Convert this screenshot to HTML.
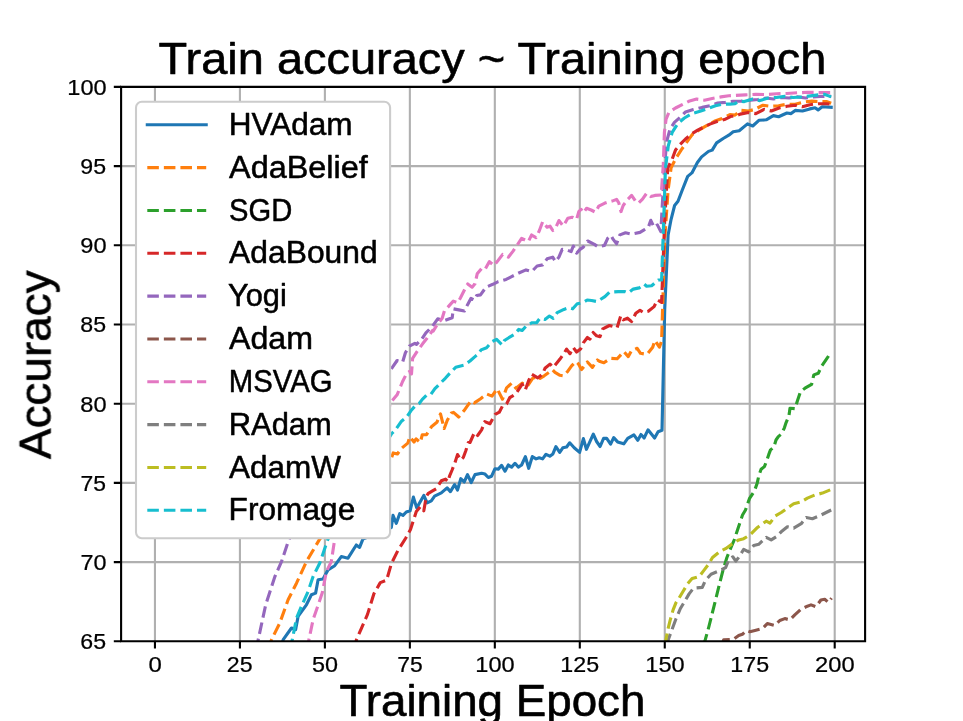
<!DOCTYPE html>
<html><head><meta charset="utf-8"><title>Train accuracy ~ Training epoch</title>
<style>html,body{margin:0;padding:0;background:#fff;width:963px;height:721px;overflow:hidden}</style></head>
<body>
<svg width="963" height="721" viewBox="0 0 963 721" style="display:block">
<rect width="963" height="721" fill="#fff"/>
<defs><clipPath id="ax"><rect x="121.1" y="86.9" width="744.0" height="554.4"/></clipPath></defs>
<path d="M154.95 86.9V641.3M239.92 86.9V641.3M324.89 86.9V641.3M409.86 86.9V641.3M494.83 86.9V641.3M579.8 86.9V641.3M664.77 86.9V641.3M749.74 86.9V641.3M834.71 86.9V641.3M121.1 562.1H865.1M121.1 482.9H865.1M121.1 403.7H865.1M121.1 324.5H865.1M121.1 245.3H865.1M121.1 166.1H865.1" stroke="#b0b0b0" stroke-width="2.1" fill="none"/>
<g clip-path="url(#ax)" fill="none" stroke-width="3.125" stroke-linejoin="round">
<path d="M280.0 650.0 L283.2 639.7 L291.5 628.0 L295.6 629.7 L298.1 616.4 L306.4 604.8 L311.4 594.8 L315.6 593.1 L318.1 579.8 L323.0 579.0 L328.0 569.9 L334.7 565.7 L341.3 556.6 L348.0 558.2 L356.3 545.0 L359.6 547.4 L362.9 539.1 L391.3 527.5 L393.0 515.4 L396.3 523.3 L399.7 513.7 L403.0 515.4 L406.3 512.0 L410.1 510.8 L413.4 497.1 L416.7 507.9 L423.8 495.4 L427.1 502.9 L431.3 500.8 L434.6 496.2 L441.3 492.9 L447.1 487.9 L450.4 491.6 L454.6 484.6 L457.5 490.0 L460.8 478.7 L464.2 482.0 L467.5 474.6 L471.2 482.5 L475.0 474.6 L481.6 473.3 L485.0 474.1 L488.3 477.5 L491.6 476.2 L495.0 468.7 L498.3 469.1 L501.6 465.4 L505.0 471.2 L508.3 465.0 L511.6 467.1 L515.0 463.3 L518.3 467.1 L521.6 465.0 L525.4 456.7 L528.7 468.3 L532.3 456.6 L536.1 458.9 L539.2 457.7 L542.6 458.9 L546.0 454.3 L549.8 456.2 L552.9 453.9 L555.9 446.7 L559.7 452.4 L562.8 447.8 L566.6 447.0 L569.7 442.8 L574.2 447.8 L579.6 452.4 L583.4 438.6 L586.4 449.3 L593.3 434.1 L596.6 441.5 L600.1 446.5 L603.6 438.4 L606.7 438.4 L610.6 444.2 L613.7 437.6 L617.6 441.9 L623.8 443.8 L627.7 438.4 L633.9 434.9 L637.8 440.3 L641.0 434.5 L644.1 438.0 L648.0 429.8 L654.6 438.0 L658.1 431.7 L662.0 430.2 L664.7 310.0 L668.1 235.0 L671.1 219.3 L674.6 205.5 L678.0 201.3 L682.2 190.2 L687.7 176.4 L691.9 172.9 L697.4 162.5 L701.6 156.9 L708.5 151.4 L712.2 150.1 L716.6 142.9 L723.2 138.5 L728.8 135.2 L733.2 131.8 L739.2 130.7 L747.5 123.9 L752.7 126.0 L758.9 120.3 L766.2 119.8 L773.4 115.6 L778.6 116.7 L786.9 113.0 L791.1 113.6 L795.2 110.4 L802.5 111.0 L809.8 108.9 L815.0 107.8 L818.1 109.9 L822.2 106.8 L831.2 107.3" stroke="#1f77b4" stroke-linecap="square"/>
<path d="M268.0 650.0 L271.5 639.7 L279.8 623.0 L288.1 599.8 L296.5 583.2 L306.4 561.6 L319.7 539.1 L391.6 457.6 L393.2 452.9 L397.4 454.0 L401.5 448.3 L407.8 443.1 L409.8 436.8 L414.0 442.0 L416.1 438.9 L420.3 442.5 L422.3 434.7 L426.5 434.7 L431.7 426.4 L436.9 422.3 L440.5 413.9 L444.2 428.5 L447.3 420.2 L451.5 412.9 L453.5 412.4 L458.7 417.0 L463.9 410.8 L468.1 404.9 L471.2 400.8 L474.4 402.9 L480.6 398.7 L486.8 394.0 L492.0 396.1 L497.2 388.8 L502.5 399.2 L506.6 387.8 L511.8 383.1 L516.0 388.3 L522.2 383.1 L527.4 386.2 L532.6 378.4 L537.8 376.3 L540.0 378.3 L544.2 375.8 L552.5 369.9 L555.0 372.4 L560.0 375.3 L563.3 375.8 L567.5 371.6 L571.6 365.8 L575.8 361.6 L578.3 363.7 L581.6 369.5 L587.4 362.0 L592.4 367.4 L597.4 360.0 L600.0 361.6 L603.9 362.7 L610.5 358.3 L617.2 358.8 L623.8 351.6 L628.3 356.6 L631.6 350.5 L637.2 348.3 L640.5 353.3 L647.1 354.4 L652.7 347.2 L654.9 340.5 L659.4 347.2 L661.6 341.1 L664.7 240.0 L668.1 190.0 L671.1 167.9 L675.5 159.0 L681.1 150.1 L686.6 142.4 L692.2 134.6 L698.8 130.2 L706.6 125.7 L714.4 121.3 L722.1 118.5 L729.9 114.6 L735.0 115.1 L741.2 110.4 L748.5 111.0 L754.7 109.4 L763.0 105.2 L770.3 106.3 L778.6 105.8 L786.9 104.2 L795.2 104.2 L803.5 102.1 L811.8 101.1 L820.2 101.6 L826.4 101.6 L831.2 103.2" stroke="#ff7f0e" stroke-dasharray="11.56 5" stroke-linecap="butt"/>
<path d="M703.0 645.0 L705.1 640.4 L708.7 627.3 L712.4 612.7 L716.0 598.2 L719.6 583.6 L723.3 569.1 L726.9 557.5 L730.5 548.7 L734.2 540.0 L737.5 529.9 L742.5 515.0 L745.5 510.0 L749.4 498.7 L754.4 491.0 L757.2 483.2 L758.9 475.4 L761.1 469.3 L764.4 466.6 L766.6 461.0 L768.8 454.4 L770.5 449.9 L773.8 447.2 L776.0 440.0 L778.3 436.6 L781.6 433.9 L784.4 427.8 L786.1 422.6 L788.9 416.0 L790.0 408.2 L795.0 408.7 L797.2 401.5 L800.5 391.6 L805.0 388.2 L811.6 384.4 L813.8 374.9 L818.3 373.3 L821.6 366.1 L826.6 358.9 L831.2 352.0" stroke="#2ca02c" stroke-dasharray="11.56 5" stroke-linecap="butt"/>
<path d="M354.0 650.0 L356.4 639.9 L361.2 628.8 L367.5 614.4 L373.9 593.7 L380.3 582.6 L386.6 580.2 L391.4 563.5 L397.8 550.7 L405.8 538.0 L410.5 529.5 L413.0 521.6 L416.3 511.6 L420.5 506.6 L423.8 510.8 L426.3 496.6 L428.0 493.7 L432.1 491.2 L436.3 488.7 L441.3 480.8 L445.5 479.2 L448.0 481.7 L449.6 475.8 L452.1 470.0 L455.0 462.5 L457.5 454.6 L460.8 460.0 L463.3 457.5 L465.8 450.8 L468.3 442.5 L470.0 442.5 L474.5 432.4 L477.6 435.5 L481.6 429.9 L484.8 421.6 L490.0 423.7 L495.2 414.3 L499.3 412.2 L502.5 406.0 L506.6 403.9 L509.7 397.7 L512.3 396.1 L516.0 393.5 L522.2 384.1 L525.3 389.9 L528.5 381.0 L531.6 374.2 L537.8 377.9 L542.5 374.1 L545.0 368.3 L550.0 364.1 L553.3 367.4 L560.0 359.1 L564.1 353.3 L566.6 349.1 L570.0 353.7 L573.3 347.5 L576.6 352.0 L580.8 348.7 L583.3 342.9 L587.4 337.5 L589.9 339.2 L593.2 332.5 L596.6 335.8 L600.0 336.7 L602.8 328.9 L609.4 325.5 L617.1 327.7 L620.8 315.7 L623.3 319.9 L627.5 318.2 L631.6 321.6 L635.8 313.3 L640.0 310.3 L643.3 312.4 L648.3 311.2 L654.1 306.6 L657.4 299.9 L661.6 302.4 L664.7 220.0 L667.8 167.9 L672.2 159.0 L675.5 150.1 L680.0 144.6 L685.5 139.0 L692.2 133.5 L697.7 130.2 L704.4 126.8 L709.9 124.1 L717.7 121.3 L724.4 119.6 L731.0 116.3 L735.0 116.2 L740.2 114.1 L748.5 112.5 L755.8 113.6 L764.1 109.4 L771.3 111.0 L779.7 107.8 L786.9 106.3 L795.2 105.2 L802.5 106.8 L809.8 104.7 L818.1 103.7 L826.4 103.7 L831.2 104.2" stroke="#d62728" stroke-dasharray="11.56 5" stroke-linecap="butt"/>
<path d="M256.0 650.0 L258.2 639.7 L265.7 604.8 L274.9 576.5 L281.5 561.6 L289.0 539.1 L391.0 369.3 L397.1 360.5 L402.6 362.1 L405.4 352.7 L409.3 346.1 L414.8 343.3 L416.5 344.4 L421.5 339.4 L425.9 332.8 L432.6 326.1 L437.7 318.8 L444.4 320.5 L452.2 317.7 L453.3 308.8 L458.8 309.9 L464.4 311.0 L467.7 304.4 L471.0 298.3 L474.4 300.0 L476.7 295.5 L480.5 294.9 L486.1 287.1 L492.8 284.3 L498.3 281.6 L506.1 279.4 L511.6 276.6 L519.4 272.7 L526.0 269.9 L531.6 271.6 L537.1 266.0 L542.7 264.9 L547.1 258.8 L552.7 257.2 L555.5 261.6 L558.9 257.1 L562.2 249.4 L566.6 249.9 L571.1 251.6 L573.3 246.0 L576.6 253.2 L580.0 249.4 L583.3 247.1 L587.7 241.0 L594.4 244.4 L597.7 246.6 L604.4 245.5 L607.7 238.3 L611.0 235.5 L613.2 239.4 L616.6 243.8 L619.9 234.9 L625.5 232.7 L631.6 234.1 L640.0 232.4 L644.1 229.9 L648.3 227.4 L650.8 220.3 L654.1 227.4 L657.4 224.9 L660.8 231.6 L664.4 167.9 L666.7 141.3 L670.0 129.1 L674.4 122.4 L680.0 117.4 L685.5 111.9 L693.3 109.6 L702.2 107.4 L709.9 105.8 L717.7 103.0 L725.5 102.4 L733.2 101.3 L741.2 101.1 L750.6 100.1 L757.8 99.5 L766.2 98.0 L773.4 99.0 L781.7 97.5 L789.0 98.0 L797.3 96.9 L805.6 98.0 L812.9 96.9 L820.2 96.4 L831.2 96.4" stroke="#9467bd" stroke-dasharray="11.56 5" stroke-linecap="butt"/>
<path d="M722.0 645.0 L723.7 639.8 L733.7 639.2 L738.7 635.5 L742.4 634.2 L746.8 630.5 L749.9 631.7 L754.9 630.5 L762.4 628.6 L767.3 623.6 L774.8 625.5 L779.8 620.5 L784.8 618.6 L789.8 619.9 L794.8 614.9 L801.0 609.3 L806.0 606.8 L811.0 604.9 L815.9 606.8 L820.9 600.0 L824.7 599.3 L828.4 602.4 L831.5 598.1" stroke="#8c564b" stroke-dasharray="11.56 5" stroke-linecap="butt"/>
<path d="M307.0 650.0 L308.9 639.7 L313.1 619.7 L322.2 593.1 L326.4 571.5 L331.3 561.6 L334.7 539.1 L391.5 401.5 L397.1 394.8 L402.6 381.5 L406.5 373.8 L409.3 371.6 L411.5 373.8 L412.6 358.3 L417.0 351.6 L422.6 343.8 L427.0 338.3 L432.6 330.5 L433.3 331.0 L437.7 323.8 L442.2 318.3 L444.4 311.0 L449.9 304.9 L453.3 301.1 L457.7 302.7 L460.5 297.7 L464.4 290.0 L467.7 283.9 L472.1 287.2 L475.0 283.8 L477.2 273.8 L481.7 268.3 L485.0 269.4 L489.4 261.6 L493.9 265.5 L497.2 261.6 L502.7 254.4 L508.3 257.2 L512.7 251.6 L517.2 245.0 L521.6 238.3 L528.3 241.6 L531.6 235.0 L536.0 237.7 L539.4 230.5 L542.7 221.7 L547.1 227.2 L550.0 226.1 L552.8 230.5 L555.5 228.3 L558.9 220.5 L563.3 226.1 L567.8 218.3 L572.2 217.2 L576.6 219.4 L578.8 211.6 L581.1 209.4 L583.3 212.7 L586.6 208.3 L591.1 210.0 L595.5 212.2 L598.8 206.1 L604.4 203.3 L607.7 202.2 L612.1 201.1 L616.6 199.4 L618.8 202.8 L621.0 211.6 L623.2 205.5 L627.7 199.4 L631.6 195.4 L635.8 201.6 L638.3 203.3 L642.5 199.1 L646.6 193.3 L650.8 196.6 L654.9 195.4 L661.2 195.0 L663.3 164.6 L664.4 132.4 L666.1 119.1 L668.9 112.4 L675.5 108.0 L682.2 104.6 L688.8 101.3 L696.6 99.1 L704.4 100.2 L712.2 98.5 L721.0 96.9 L728.8 95.8 L735.0 95.4 L745.4 94.9 L755.8 94.3 L766.2 94.6 L776.5 93.8 L786.9 93.5 L797.3 92.8 L807.7 92.3 L818.1 92.5 L831.2 92.5" stroke="#e377c2" stroke-dasharray="11.56 5" stroke-linecap="butt"/>
<path d="M667.5 645.0 L668.0 640.5 L671.7 630.3 L676.0 618.7 L680.4 608.5 L684.8 601.2 L689.1 593.9 L693.5 588.1 L702.3 587.4 L705.2 580.8 L711.0 574.2 L719.7 570.6 L725.6 567.7 L728.5 560.4 L732.9 556.8 L735.8 561.1 L738.7 557.4 L743.7 549.3 L748.7 551.8 L753.7 545.5 L758.7 544.3 L766.2 537.4 L771.2 539.9 L776.2 536.8 L781.2 531.8 L787.4 526.8 L793.7 528.1 L801.2 523.7 L806.2 517.5 L812.4 518.7 L819.9 515.6 L831.2 510.0" stroke="#7f7f7f" stroke-dasharray="11.56 5" stroke-linecap="butt"/>
<path d="M665.5 645.0 L665.8 640.5 L668.0 628.9 L670.2 620.1 L673.1 609.9 L676.0 602.7 L678.9 598.3 L683.3 591.0 L687.7 583.7 L692.1 578.6 L699.3 576.4 L703.7 570.6 L708.1 564.8 L712.5 557.5 L719.7 551.7 L725.6 548.7 L731.4 544.4 L738.7 539.9 L743.7 538.7 L750.0 534.9 L757.5 527.4 L766.2 521.2 L770.0 523.1 L775.0 516.2 L781.2 512.5 L787.4 508.1 L793.7 503.7 L801.2 501.8 L807.4 498.1 L814.9 495.0 L822.4 493.1 L831.2 489.4" stroke="#bcbd22" stroke-dasharray="11.56 5" stroke-linecap="butt"/>
<path d="M290.0 650.0 L292.3 639.7 L296.5 618.1 L301.4 606.4 L308.1 591.5 L313.1 576.5 L319.7 563.2 L328.0 539.1 L391.6 433.7 L395.3 430.1 L401.5 421.2 L406.7 417.0 L410.9 410.8 L415.0 406.1 L419.2 403.5 L422.3 399.4 L426.5 395.2 L430.7 394.7 L434.9 388.7 L445.3 378.3 L449.5 373.6 L455.7 367.3 L464.1 365.2 L470.0 361.0 L474.4 357.1 L477.8 354.4 L481.1 349.9 L486.6 347.7 L492.2 341.6 L496.6 339.4 L502.2 344.9 L504.4 340.5 L508.8 337.7 L514.4 334.4 L518.8 329.4 L522.2 330.5 L526.6 325.5 L532.1 322.7 L536.6 322.7 L539.9 318.3 L545.0 319.4 L549.4 316.0 L553.3 318.3 L557.2 312.7 L563.9 309.4 L568.9 307.7 L572.7 308.8 L577.2 303.8 L582.7 302.7 L587.2 300.0 L591.6 300.5 L597.2 301.6 L604.9 296.6 L609.4 292.2 L618.2 291.6 L625.0 291.6 L628.3 292.9 L633.3 289.1 L639.1 287.9 L644.1 284.1 L646.6 286.2 L651.6 285.8 L658.3 280.0 L661.6 280.0 L665.5 167.9 L668.3 145.7 L672.2 132.4 L677.8 123.5 L684.4 118.0 L692.2 113.5 L700.0 111.3 L707.7 108.5 L715.5 105.8 L722.1 104.1 L729.9 104.1 L735.0 103.7 L739.2 101.1 L744.3 101.6 L752.7 99.0 L759.9 100.6 L768.2 98.0 L776.5 97.5 L784.8 96.4 L793.2 97.5 L802.5 96.9 L810.8 95.9 L818.1 94.9 L824.3 94.3 L831.2 96.9" stroke="#17becf" stroke-dasharray="11.56 5" stroke-linecap="butt"/>
</g>
<path d="M121.1 641.3V86.9H865.1V641.3Z" stroke="#000" stroke-width="2.1" fill="none" stroke-linejoin="miter" stroke-linecap="square"/>
<path d="M154.95 641.3V648.59M239.92 641.3V648.59M324.89 641.3V648.59M409.86 641.3V648.59M494.83 641.3V648.59M579.8 641.3V648.59M664.77 641.3V648.59M749.74 641.3V648.59M834.71 641.3V648.59M113.81 562.1H121.1M113.81 482.9H121.1M113.81 403.7H121.1M113.81 324.5H121.1M113.81 245.3H121.1M113.81 166.1H121.1M113.81 641.3H121.1M113.81 86.9H121.1" stroke="#000" stroke-width="2.1" fill="none"/>
<g font-family="Liberation Sans, sans-serif" fill="#000" style="font-kerning:normal;will-change:transform" stroke="#000" stroke-width="0.6" stroke-linejoin="round">
<text transform="matrix(1.0674 0.0000 0.0000 0.9937 158.6163 73.9000)" x="0" y="0" font-size="44" stroke-width="0.6">Train accuracy ~ Training epoch</text>
<text transform="matrix(1.0397 0.0000 0.0000 0.9937 339.4802 715.9000)" x="0" y="0" font-size="44" stroke-width="0.6">Training Epoch</text>
<text transform="matrix(0.0000 -1.0430 0.9937 0.0000 50.4000 459.0393)" x="0" y="0" font-size="44" stroke-width="0.6">Accuracy</text>
<text transform="matrix(1.0884 0.0000 0.0000 0.9936 148.5837 671.9000)" x="0" y="0" font-size="22" stroke-width="0.25">0</text>
<text transform="matrix(1.0527 0.0000 0.0000 0.9936 226.8473 671.9000)" x="0" y="0" font-size="22" stroke-width="0.25">25</text>
<text transform="matrix(1.0630 0.0000 0.0000 0.9936 312.1027 671.9000)" x="0" y="0" font-size="22" stroke-width="0.25">50</text>
<text transform="matrix(1.0418 0.0000 0.0000 0.9936 397.3582 671.9000)" x="0" y="0" font-size="22" stroke-width="0.25">75</text>
<text transform="matrix(1.0710 0.0000 0.0000 0.9936 475.2935 671.9000)" x="0" y="0" font-size="22" stroke-width="0.25">100</text>
<text transform="matrix(1.0565 0.0000 0.0000 0.9936 560.3152 671.9000)" x="0" y="0" font-size="22" stroke-width="0.25">125</text>
<text transform="matrix(1.0710 0.0000 0.0000 0.9936 645.2935 671.9000)" x="0" y="0" font-size="22" stroke-width="0.25">150</text>
<text transform="matrix(1.0565 0.0000 0.0000 0.9936 730.3152 671.9000)" x="0" y="0" font-size="22" stroke-width="0.25">175</text>
<text transform="matrix(1.0771 0.0000 0.0000 0.9936 815.0729 671.9000)" x="0" y="0" font-size="22" stroke-width="0.25">200</text>
<text transform="matrix(1.0527 0.0000 0.0000 0.9936 80.3473 649.2000)" x="0" y="0" font-size="22" stroke-width="0.25">65</text>
<text transform="matrix(1.0637 0.0000 0.0000 0.9936 80.5863 570.0000)" x="0" y="0" font-size="22" stroke-width="0.25">70</text>
<text transform="matrix(1.0418 0.0000 0.0000 0.9936 80.6082 490.8000)" x="0" y="0" font-size="22" stroke-width="0.25">75</text>
<text transform="matrix(1.0739 0.0000 0.0000 0.9936 80.3446 411.6000)" x="0" y="0" font-size="22" stroke-width="0.25">80</text>
<text transform="matrix(1.0522 0.0000 0.0000 0.9936 80.3609 332.4000)" x="0" y="0" font-size="22" stroke-width="0.25">85</text>
<text transform="matrix(1.0739 0.0000 0.0000 0.9936 80.3446 253.2000)" x="0" y="0" font-size="22" stroke-width="0.25">90</text>
<text transform="matrix(1.0522 0.0000 0.0000 0.9936 80.3609 174.0000)" x="0" y="0" font-size="22" stroke-width="0.25">95</text>
<text transform="matrix(1.0710 0.0000 0.0000 0.9936 67.2935 94.8000)" x="0" y="0" font-size="22" stroke-width="0.25">100</text>
</g>
<rect x="136.0" y="101.7" width="254.1" height="436.5" rx="5.83" ry="5.83" fill="#fff" stroke="#cccccc" stroke-width="2.083"/>
<g fill="none" stroke-width="3.125">
<path d="M147.3 124.80H206.2" stroke="#1f77b4" stroke-linecap="square"/>
<path d="M147.3 167.63H206.2" stroke="#ff7f0e" stroke-dasharray="11.56 5"/>
<path d="M147.3 210.46H206.2" stroke="#2ca02c" stroke-dasharray="11.56 5"/>
<path d="M147.3 253.29H206.2" stroke="#d62728" stroke-dasharray="11.56 5"/>
<path d="M147.3 296.12H206.2" stroke="#9467bd" stroke-dasharray="11.56 5"/>
<path d="M147.3 338.95H206.2" stroke="#8c564b" stroke-dasharray="11.56 5"/>
<path d="M147.3 381.78H206.2" stroke="#e377c2" stroke-dasharray="11.56 5"/>
<path d="M147.3 424.61H206.2" stroke="#7f7f7f" stroke-dasharray="11.56 5"/>
<path d="M147.3 467.44H206.2" stroke="#bcbd22" stroke-dasharray="11.56 5"/>
<path d="M147.3 510.27H206.2" stroke="#17becf" stroke-dasharray="11.56 5"/>
</g>
<g font-family="Liberation Sans, sans-serif" fill="#000" style="font-kerning:normal;will-change:transform" stroke="#000" stroke-width="0.6" stroke-linejoin="round">
<text transform="matrix(1.0526 0.0000 0.0000 1.0202 228.6316 135.0000)" x="0" y="0" font-size="30" stroke-width="0.5">HVAdam</text>
<text transform="matrix(1.0814 0.0000 0.0000 1.0202 229.0203 177.8300)" x="0" y="0" font-size="30" stroke-width="0.5">AdaBelief</text>
<text transform="matrix(0.9722 0.0000 0.0000 1.0202 229.0278 220.6600)" x="0" y="0" font-size="30" stroke-width="0.5">SGD</text>
<text transform="matrix(1.0613 0.0000 0.0000 1.0202 229.0153 263.4900)" x="0" y="0" font-size="30" stroke-width="0.5">AdaBound</text>
<text transform="matrix(1.0271 0.0000 0.0000 1.0202 227.9932 306.3200)" x="0" y="0" font-size="30" stroke-width="0.5">Yogi</text>
<text transform="matrix(1.0714 0.0000 0.0000 1.0202 229.0179 349.1500)" x="0" y="0" font-size="30" stroke-width="0.5">Adam</text>
<text transform="matrix(0.9779 0.0000 0.0000 1.0202 228.7996 391.9800)" x="0" y="0" font-size="30" stroke-width="0.5">MSVAG</text>
<text transform="matrix(1.0312 0.0000 0.0000 1.0202 228.6799 434.8100)" x="0" y="0" font-size="30" stroke-width="0.5">RAdam</text>
<text transform="matrix(1.0513 0.0000 0.0000 1.0202 229.0128 477.6400)" x="0" y="0" font-size="30" stroke-width="0.5">AdamW</text>
<text transform="matrix(1.0557 0.0000 0.0000 1.0202 228.6247 520.4700)" x="0" y="0" font-size="30" stroke-width="0.5">Fromage</text>
</g>
</svg>
</body></html>
